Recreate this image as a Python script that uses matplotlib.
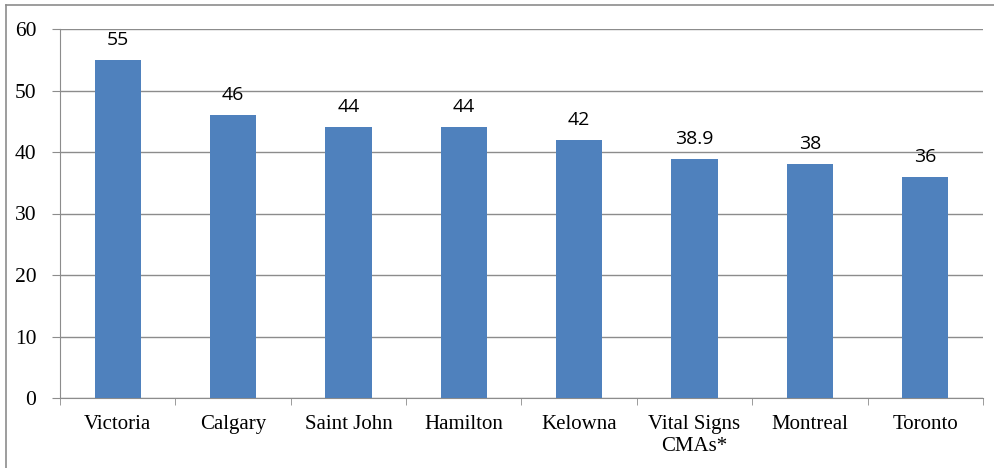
import matplotlib.pyplot as plt
from matplotlib.lines import Line2D

# chart data
cities = ["Victoria", "Calgary", "Saint John", "Hamilton", "Kelowna",
          "Vital Signs\nCMAs*", "Montreal", "Toronto"]
values = [55, 46, 44, 44, 42, 38.9, 38, 36]
labels = ["55", "46", "44", "44", "42", "38.9", "38", "36"]

fig = plt.figure(figsize=(9.95, 4.68), dpi=100)
ax = fig.add_axes([60 / 995, 1 - 398 / 468, 923 / 995, 369 / 468])

x = range(len(cities))
bars = ax.bar(x, values, width=0.4, color="#4F81BD", zorder=3)

for b, lab in zip(bars, labels):
    ax.text(b.get_x() + b.get_width() / 2, b.get_height() + 1.8, lab,
            ha="center", va="bottom", fontsize=14, family="Open Sans")

ax.set_xlim(-0.5, len(cities) - 0.5)
ax.set_ylim(0, 60)
ax.set_yticks(range(0, 61, 10))
ax.yaxis.grid(True, color="#8c8c8c", linewidth=1, zorder=0)

ax.set_xticks(x)
ax.set_xticklabels(cities, family="Liberation Serif", fontsize=15, linespacing=1.25)
ax.set_xticks([i - 0.5 for i in range(len(cities) + 1)], minor=True)
ax.tick_params(axis="x", which="major", length=0, pad=12)
ax.tick_params(axis="x", which="minor", length=5, color="#8c8c8c", direction="out")
ax.tick_params(axis="y", length=6, color="#8c8c8c", pad=11)
for t in ax.get_yticklabels():
    t.set_family("Liberation Serif")
    t.set_fontsize(15.5)

for s in ["top", "right"]:
    ax.spines[s].set_visible(False)
ax.spines["left"].set_color("#8c8c8c")
ax.spines["bottom"].set_color("#8c8c8c")

# outer chart frame (left and top edges)
fig.add_artist(Line2D([6.5 / 995, 6.5 / 995], [0, 1 - 5 / 468], color="#8c8c8c", lw=1.2))
fig.add_artist(Line2D([6.5 / 995, 1], [1 - 5 / 468, 1 - 5 / 468], color="#8c8c8c", lw=1.2))

fig.savefig("out.png", dpi=100)
